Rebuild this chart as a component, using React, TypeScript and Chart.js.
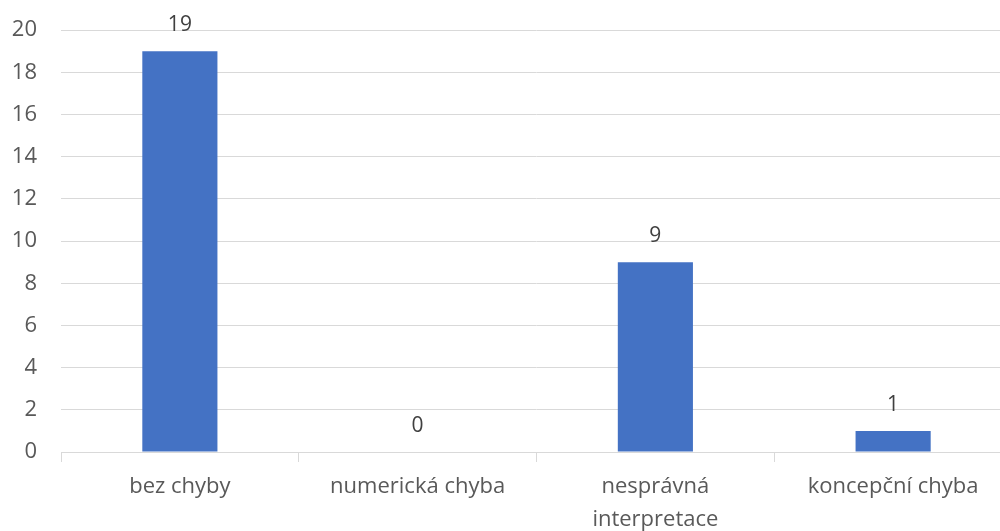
import React, { useEffect, useRef } from "react";
import { Chart, registerables } from "chart.js";

Chart.register(...registerables);

const categories: (string | string[])[] = [
  "bez chyby",
  "numerická chyba",
  ["nesprávná", "interpretace"],
  "koncepční chyba",
];
const values: number[] = [19, 0, 9, 1];
const yMin = 0;
const yMax = 20;
const yStep = 2;

const FONT = "'Open Sans', sans-serif";

const valueLabels = {
  id: "valueLabels",
  afterDatasetsDraw(chart: any) {
    const ctx = chart.ctx;
    const meta = chart.getDatasetMeta(0);
    ctx.save();
    ctx.font = `21px ${FONT}`;
    ctx.fillStyle = "#404040";
    ctx.textAlign = "center";
    ctx.textBaseline = "alphabetic";
    meta.data.forEach((bar: any, i: number) => {
      ctx.fillText(String(values[i]), bar.x, bar.y - 20);
    });
    ctx.restore();
  },
};

export default function App() {
  const ref = useRef<HTMLCanvasElement | null>(null);
  useEffect(() => {
    if (!ref.current) return;
    const chart = new Chart(ref.current, {
      type: "bar",
      data: {
        labels: categories,
        datasets: [
          {
            data: values,
            backgroundColor: "#4472c4",
            categoryPercentage: 1,
            barPercentage: 0.316,
          },
        ],
      },
      options: {
        animation: false,
        responsive: false,
        maintainAspectRatio: false,
        layout: { padding: { top: 0, right: 0, left: 0, bottom: 0 } },
        plugins: { legend: { display: false }, tooltip: { enabled: false } },
        scales: {
          x: {
            grid: {
              drawOnChartArea: false,
              drawTicks: true,
              tickLength: 10,
              color: "#d9d9d9",
            },
            border: { color: "#d9d9d9", width: 1 },
            ticks: {
              color: "#595959",
              font: { family: FONT, size: 22, lineHeight: 1.5 },
              padding: 8,
              maxRotation: 0,
              autoSkip: false,
            },
            afterFit: (s: any) => {
              s.height = 79;
            },
          },
          y: {
            min: yMin,
            max: yMax,
            ticks: {
              stepSize: yStep,
              color: "#595959",
              font: { family: FONT, size: 22 },
              padding: 24,
            },
            grid: { color: "#d9d9d9", drawTicks: false },
            border: { display: false },
            afterFit: (s: any) => {
              s.width = 61;
            },
          },
        },
      },
      plugins: [valueLabels],
    });
    return () => chart.destroy();
  }, []);
  return (
    <div
      style={{
        position: "fixed",
        left: 0,
        top: 0,
        width: 1000,
        height: 531,
        overflow: "hidden",
        background: "#fff",
      }}
    >
      <canvas
        ref={ref}
        width={1012}
        height={538}
        style={{ display: "block", marginTop: -7 }}
      />
    </div>
  );
}
